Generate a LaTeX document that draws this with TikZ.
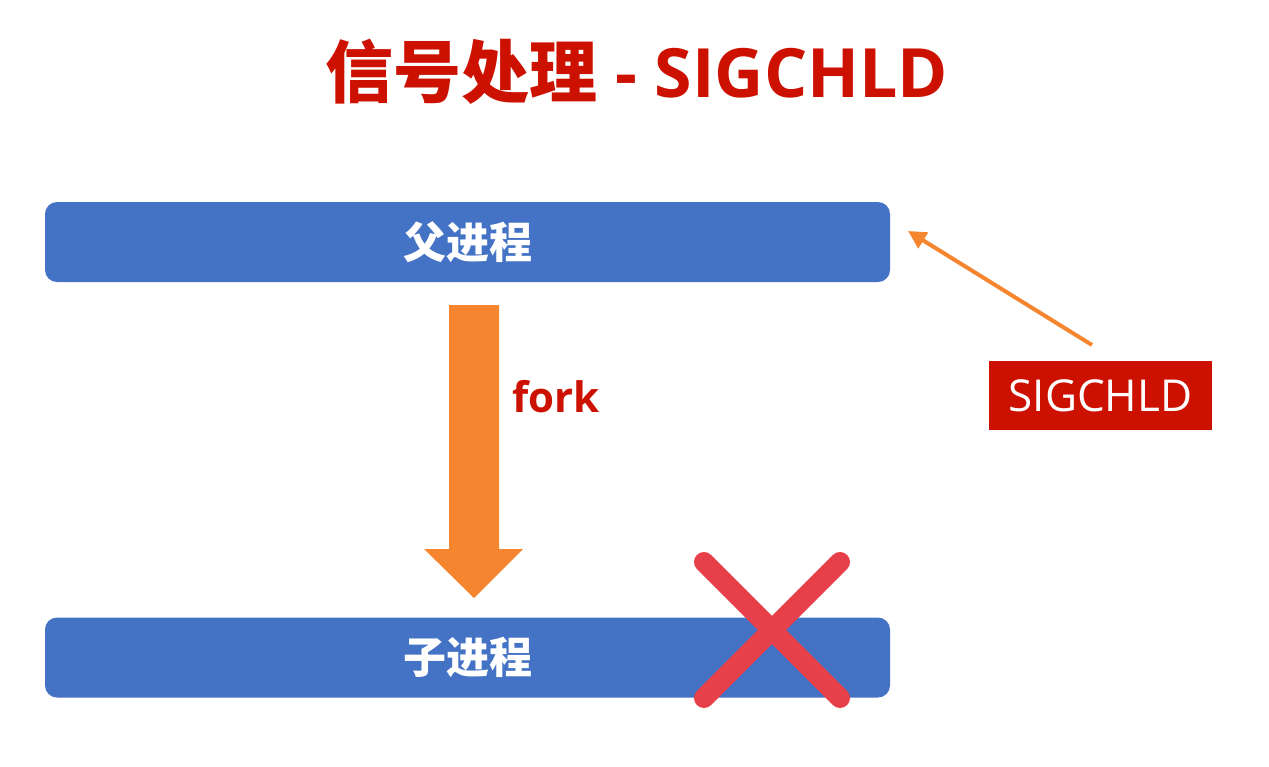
\documentclass[tikz,border=0pt]{standalone}
\usepackage{fontspec}
\setmainfont{Open Sans}
\newfontfamily\cjk{Noto Sans CJK SC}
\usetikzlibrary{arrows.meta}
\definecolor{boxblue}{HTML}{4472C4}
\definecolor{forkorange}{HTML}{F5862F}
\definecolor{titlered}{HTML}{CC1100}
\definecolor{xred}{HTML}{E8404A}
\tikzset{
  procbox/.style={fill=boxblue, rounded corners=12pt, minimum width=845pt, minimum height=80pt, inner sep=0pt, text=white, font=\cjk\bfseries\fontsize{43}{46}\selectfont},
  sigbox/.style={fill=titlered, minimum width=223pt, minimum height=69pt, inner sep=0pt, text=white, font=\fontsize{44}{48}\selectfont},
  bigarrow/.style={fill=forkorange, draw=none},
  thinarrow/.style={draw=forkorange, line width=4pt, -{Triangle[length=18pt,width=18pt]}},
  crossline/.style={draw=xred, line width=20pt, line cap=round},
  titletext/.style={text=titlered, font=\bfseries\fontsize{68}{72}\selectfont, inner sep=0pt},
  forktext/.style={text=titlered, font=\bfseries\fontsize{42}{46}\selectfont, inner sep=0pt}
}
\begin{document}
\begin{tikzpicture}[x=1pt,y=-1pt]
\useasboundingbox (0,0) rectangle (1269,766);
\node[titletext, anchor=base] (title) at (637,97) {{\cjk 信号处理} - SIGCHLD};
\node[procbox] (parent) at (467.5,242) {父进程};
\node[procbox] (child) at (467.5,657.5) {子进程};
\fill[bigarrow] (449,305) -- (499,305) -- (499,549) -- (523,549) -- (474,598) -- (424,549) -- (449,549) -- cycle;
\node[forktext, anchor=base west] (fork) at (512,412) {fork};
\node[sigbox] (sig) at (1100.5,395.5) {SIGCHLD};
\coordinate (sigtail) at (1092,345);
\coordinate (sighead) at (908,231);
\draw[thinarrow] (sigtail) -- (sighead);
\coordinate (xa) at (704,562);
\coordinate (xb) at (840,698);
\coordinate (xc) at (840,562);
\coordinate (xd) at (704,698);
\draw[crossline] (xa) -- (xb);
\draw[crossline] (xc) -- (xd);
\end{tikzpicture}
\end{document}
